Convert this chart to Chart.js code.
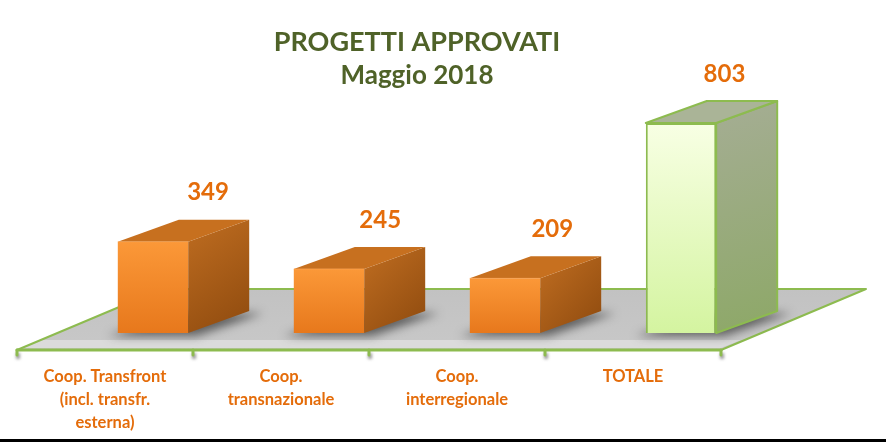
<!DOCTYPE html>
<html><head><meta charset="utf-8">
<script src="https://cdn.jsdelivr.net/npm/chart.js@4"></script>
<style>html,body{margin:0;padding:0;background:#fff}canvas{display:block}</style>
</head><body>
<canvas id="c" width="886" height="442"></canvas>
<script>
// ---- data ----
const categories = [["Coop. Transfront", "(incl. transfr.", "esterna)"], ["Coop.", "transnazionale"], ["Coop.", "interregionale"], "TOTALE"];
const values = [349, 245, 209, 803];
const titleText = "PROGETTI APPROVATI";
const subtitleText = "Maggio 2018";

// ---- styling constants ----
const FONT = "Lato, 'Open Sans', sans-serif";
const GREEN_TXT = '#4F6228';
const ORANGE_TXT = '#E46C0A';
const EDGE_GREEN = '#8DBB4F';
const DX = 61, DY = -22;            // bar depth
const FLOOR_DX = 145, FLOOR_DY = -61; // floor depth
const SHIFT = -48;                   // floor/labels shift

function isTotal(i) { return i === values.length - 1; }

function frontFill(c) {
  const chart = c.chart, ca = chart.chartArea, i = c.dataIndex;
  if (!ca) return isTotal(i) ? '#E8FBC6' : '#F28A2E';
  const ys = chart.scales.y;
  const top = ys.getPixelForValue(values[i]), base = ys.getPixelForValue(0);
  const g = chart.ctx.createLinearGradient(0, top, 0, base);
  if (isTotal(i)) {
    g.addColorStop(0, '#F8FFE4'); g.addColorStop(1, '#D4F4A0');
  } else {
    g.addColorStop(0, '#FB9838'); g.addColorStop(1, '#E7781C');
  }
  return g;
}

const threeD = {
  id: 'threeD',
  beforeDatasetsDraw(chart) {
    const ctx = chart.ctx, xs = chart.scales.x, ys = chart.scales.y;
    const base = ys.getPixelForValue(0);
    const fy = base + 17, by = fy + FLOOR_DY;
    const fx0 = xs.left + SHIFT, fx1 = xs.right + SHIFT;
    ctx.save();
    ctx.beginPath();
    ctx.moveTo(fx0, fy); ctx.lineTo(fx0 + FLOOR_DX, by); ctx.lineTo(fx1 + FLOOR_DX, by); ctx.lineTo(fx1, fy);
    ctx.closePath();
    const g = ctx.createLinearGradient(0, by, 0, fy);
    g.addColorStop(0, '#C2C2C2'); g.addColorStop(1, '#C8C8C8');
    ctx.fillStyle = g; ctx.fill();
    ctx.fillStyle = 'rgba(235,235,235,0.55)';
    ctx.beginPath();
    ctx.moveTo(fx0 + 4, fy - 2); ctx.lineTo(fx1, fy - 2); ctx.lineTo(fx1 + 20, fy - 10); ctx.lineTo(fx0 + 24, fy - 10);
    ctx.closePath(); ctx.fill();
    ctx.strokeStyle = EDGE_GREEN; ctx.lineJoin = 'round'; ctx.lineCap = 'round';
    ctx.lineWidth = 2;
    ctx.beginPath();
    ctx.moveTo(fx0, fy); ctx.lineTo(fx0 + FLOOR_DX, by); ctx.lineTo(fx1 + FLOOR_DX, by); ctx.lineTo(fx1, fy);
    ctx.stroke();
    ctx.lineWidth = 3;
    ctx.beginPath(); ctx.moveTo(fx0, fy); ctx.lineTo(fx1, fy); ctx.stroke();
    const n = values.length, step = xs.width / n;
    for (let i = 0; i <= n; i++) {
      const x = xs.left + i * step + SHIFT;
      ctx.save();
      ctx.filter = 'blur(1.5px)';
      ctx.fillStyle = 'rgba(90,90,90,0.6)';
      ctx.fillRect(x - 1, fy + 3, 4, 6);
      ctx.restore();
      ctx.lineWidth = 3;
      ctx.beginPath(); ctx.moveTo(x, fy); ctx.lineTo(x, fy + 5); ctx.stroke();
    }
    const meta = chart.getDatasetMeta(0);
    meta.data.forEach((bar) => {
      const l = bar.x - bar.width / 2, r = bar.x + bar.width / 2, b = bar.base;
      ctx.save();
      ctx.filter = 'blur(5px)';
      ctx.fillStyle = 'rgba(60,60,60,0.75)';
      ctx.beginPath();
      ctx.moveTo(l - 10, b + 3); ctx.lineTo(r + 8, b + 3);
      ctx.lineTo(r + DX + 14, b + DY + 2); ctx.lineTo(l + DX, b + DY + 2);
      ctx.closePath(); ctx.fill();
      ctx.restore();
    });
    ctx.restore();
  },
  afterDatasetsDraw(chart) {
    const ctx = chart.ctx;
    const meta = chart.getDatasetMeta(0);
    ctx.save();
    meta.data.forEach((bar, i) => {
      const l = bar.x - bar.width / 2, r = bar.x + bar.width / 2, t = bar.y, b = bar.base;
      const tot = isTotal(i);
      ctx.beginPath();
      ctx.moveTo(r, t); ctx.lineTo(r + DX, t + DY); ctx.lineTo(r + DX, b + DY); ctx.lineTo(r, b);
      ctx.closePath();
      const gs = ctx.createLinearGradient(r, t, r + DX, b);
      if (tot) { gs.addColorStop(0, '#A3AD90'); gs.addColorStop(1, '#8DA867'); }
      else { gs.addColorStop(0, '#B8681E'); gs.addColorStop(1, '#8E4A0E'); }
      ctx.fillStyle = gs; ctx.fill();
      if (tot) { ctx.strokeStyle = EDGE_GREEN; ctx.lineWidth = 2; ctx.lineJoin = 'round'; ctx.stroke(); }
      ctx.beginPath();
      ctx.moveTo(l, t); ctx.lineTo(l + DX, t + DY); ctx.lineTo(r + DX, t + DY); ctx.lineTo(r, t);
      ctx.closePath();
      ctx.fillStyle = tot ? '#AAB497' : '#C7701F';
      ctx.fill();
      if (tot) { ctx.strokeStyle = EDGE_GREEN; ctx.lineWidth = 2; ctx.stroke(); }
      else {
        ctx.strokeStyle = 'rgba(255,170,90,0.6)'; ctx.lineWidth = 1;
        ctx.beginPath(); ctx.moveTo(l, t); ctx.lineTo(r, t); ctx.stroke();
      }
      const off = DX - 4 - (bar.x - chart.scales.x.left) * 0.022;
      ctx.fillStyle = ORANGE_TXT;
      ctx.font = "bold 24px " + FONT;
      ctx.textAlign = 'center'; ctx.textBaseline = 'middle';
      ctx.fillText(String(values[i]), bar.x + off, t + DY - 27);
    });
    ctx.restore();
  },
  afterDraw(chart) {
    const ctx = chart.ctx;
    ctx.save();
    ctx.fillStyle = '#000';
    ctx.fillRect(0, chart.height - 3, chart.width, 3);
    ctx.restore();
  }
};

new Chart(document.getElementById('c'), {
  type: 'bar',
  data: {
    labels: categories,
    datasets: [{
      data: values,
      backgroundColor: frontFill,
      borderColor: (c) => isTotal(c.dataIndex) ? EDGE_GREEN : 'rgba(0,0,0,0)',
      borderWidth: (c) => isTotal(c.dataIndex) ? 2 : 0,
      barPercentage: 0.4,
      categoryPercentage: 1.0
    }]
  },
  options: {
    responsive: false,
    animation: false,
    layout: { padding: { left: 65, right: 117, top: 0, bottom: 0 } },
    plugins: {
      legend: { display: false },
      tooltip: { enabled: false },
      title: {
        display: true, text: titleText, color: GREEN_TXT, fullSize: false,
        font: { family: FONT, size: 27, weight: 'bold', lineHeight: 1.2 },
        padding: { top: 25.8, bottom: 0 }
      },
      subtitle: {
        display: true, text: subtitleText, color: GREEN_TXT, fullSize: false,
        font: { family: FONT, size: 26, weight: 'bold', lineHeight: 1.2 },
        padding: { top: 2.2, bottom: 6 }
      }
    },
    scales: {
      x: {
        grid: { display: false, drawTicks: false },
        border: { display: false },
        ticks: {
          color: ORANGE_TXT, padding: 32, labelOffset: SHIFT,
          maxRotation: 0, minRotation: 0, autoSkip: false,
          font: { family: FONT, size: 16.5, weight: 'bold', lineHeight: 1.39 }
        },
        afterFit: (s) => { s.height = 109; }
      },
      y: { display: false, min: 0, max: 900 }
    }
  },
  plugins: [threeD]
});
</script>
</body></html>
